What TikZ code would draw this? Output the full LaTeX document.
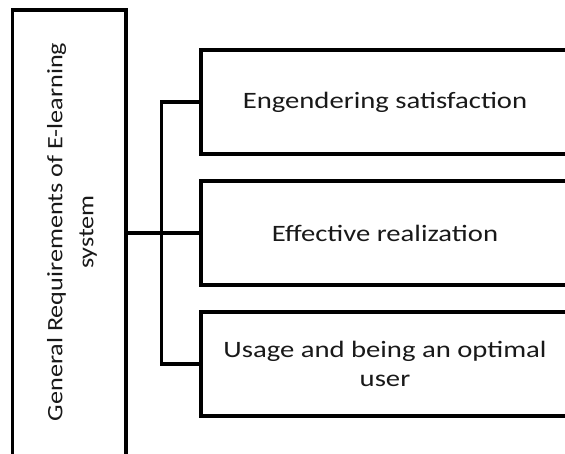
\documentclass[tikz,border=0pt]{standalone}
\usepackage{fontspec}
\usepackage{graphicx}
\setmainfont{Carlito}
\newcommand{\widetxt}[1]{\scalebox{1.22}[1]{#1}}
\newcommand{\widerot}[1]{\scalebox{1.19}[1]{#1}}
\begin{document}
\begin{tikzpicture}[x=1pt,y=-1pt,
  box/.style={draw=black, line width=3.5pt, fill=white, inner sep=0pt, align=center, font=\fontsize{23.5}{28.5}\selectfont, text=black!90},
  conn/.style={draw=black, line width=3.5pt}]
\useasboundingbox (0,0) rectangle (565,454);
\clip (0,0) rectangle (565,454);
\node[box, minimum width=113.5pt, minimum height=460pt] (L) at (69.25,240) {};
\node[rotate=90, align=center, inner sep=0pt, font=\fontsize{22}{31}\selectfont, text=black!90] (Lt) at (72,232) {\widerot{General Requirements of E-learning}\\\widerot{system}};
\node[box, minimum width=368pt, minimum height=104pt] (B1) at (385,102) {\widetxt{Engendering satisfaction}};
\node[box, minimum width=368pt, minimum height=104pt] (B2) at (385,233) {\widetxt{Effective realization}};
\node[box, minimum width=368pt, minimum height=104pt] (B3) at (385,364) {\widetxt{Usage and being an optimal}\\\widetxt{user}};
\draw[conn] (L.east |- B2.west) -- (B2.west);
\draw[conn] (B1.west) -- ++(-38,0) |- (B3.west);
\end{tikzpicture}
\end{document}
